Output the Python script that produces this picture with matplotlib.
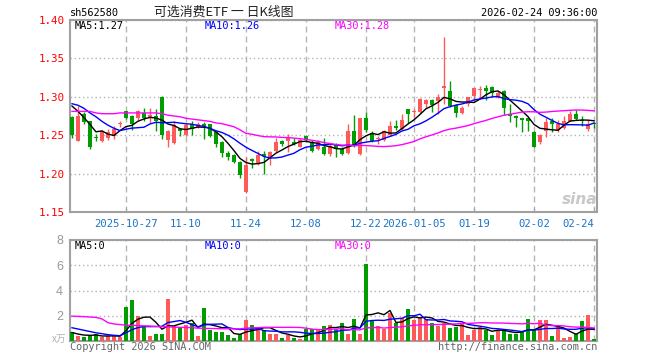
import numpy as np
import pandas as pd
import matplotlib
matplotlib.use("Agg")
import matplotlib.pyplot as plt

# trading days 2025-10-14 .. 2026-02-24 (exchange holidays removed)
holidays = ["2026-01-01", "2026-01-02", "2026-02-16", "2026-02-17",
            "2026-02-18", "2026-02-19", "2026-02-20", "2026-02-23"]
dates = pd.bdate_range("2025-10-14", "2026-02-24", freq="C", holidays=holidays)

open_ = [1.274, 1.243, 1.277, 1.268, 1.247, 1.242, 1.246, 1.249, 1.264, 1.281,
         1.275, 1.273, 1.279, 1.273, 1.275, 1.300, 1.244, 1.240, 1.258, 1.250,
         1.264, 1.261, 1.264, 1.264, 1.254, 1.241, 1.227, 1.224, 1.215, 1.176,
         1.219, 1.212, 1.225, 1.222, 1.229, 1.243, 1.242, 1.241, 1.235, 1.249,
         1.241, 1.232, 1.234, 1.225, 1.239, 1.232, 1.227, 1.255, 1.225, 1.273,
         1.253, 1.245, 1.244, 1.250, 1.262, 1.258, 1.284, 1.280, 1.280, 1.290,
         1.296, 1.295, 1.311, 1.308, 1.289, 1.279, 1.290, 1.301, 1.309, 1.311,
         1.313, 1.299, 1.308, 1.278, 1.275, 1.272, 1.272, 1.254, 1.241, 1.255,
         1.268, 1.257, 1.260, 1.269, 1.277, 1.269, 1.258, 1.266]
high = [1.275, 1.288, 1.280, 1.268, 1.251, 1.257, 1.258, 1.262, 1.268, 1.282,
        1.276, 1.283, 1.285, 1.285, 1.284, 1.301, 1.257, 1.269, 1.260, 1.266,
        1.268, 1.267, 1.267, 1.265, 1.255, 1.242, 1.229, 1.225, 1.216, 1.222,
        1.220, 1.229, 1.229, 1.229, 1.246, 1.244, 1.251, 1.246, 1.246, 1.250,
        1.244, 1.244, 1.246, 1.238, 1.240, 1.235, 1.264, 1.276, 1.273, 1.280,
        1.255, 1.249, 1.257, 1.268, 1.270, 1.277, 1.284, 1.284, 1.299, 1.297,
        1.297, 1.304, 1.378, 1.321, 1.290, 1.288, 1.300, 1.311, 1.314, 1.315,
        1.314, 1.308, 1.309, 1.290, 1.276, 1.273, 1.273, 1.256, 1.251, 1.272,
        1.273, 1.270, 1.275, 1.281, 1.283, 1.275, 1.270, 1.267]
low = [1.246, 1.242, 1.265, 1.232, 1.243, 1.241, 1.244, 1.245, 1.261, 1.271,
       1.257, 1.270, 1.268, 1.266, 1.256, 1.245, 1.235, 1.239, 1.249, 1.249,
       1.250, 1.259, 1.245, 1.248, 1.235, 1.221, 1.218, 1.214, 1.194, 1.175,
       1.207, 1.211, 1.200, 1.211, 1.228, 1.236, 1.228, 1.237, 1.234, 1.241,
       1.228, 1.231, 1.224, 1.223, 1.222, 1.224, 1.226, 1.235, 1.224, 1.254,
       1.241, 1.238, 1.243, 1.249, 1.257, 1.257, 1.266, 1.274, 1.279, 1.285,
       1.280, 1.277, 1.290, 1.287, 1.274, 1.277, 1.288, 1.296, 1.299, 1.296,
       1.300, 1.298, 1.276, 1.267, 1.261, 1.254, 1.256, 1.234, 1.238, 1.248,
       1.254, 1.254, 1.258, 1.268, 1.270, 1.262, 1.256, 1.260]
close = [1.250, 1.275, 1.267, 1.234, 1.246, 1.256, 1.254, 1.258, 1.266, 1.272,
         1.264, 1.281, 1.273, 1.276, 1.268, 1.250, 1.256, 1.263, 1.255, 1.263,
         1.258, 1.264, 1.262, 1.249, 1.238, 1.227, 1.221, 1.215, 1.198, 1.211,
         1.217, 1.224, 1.223, 1.228, 1.241, 1.238, 1.246, 1.239, 1.244, 1.244,
         1.229, 1.241, 1.225, 1.236, 1.232, 1.226, 1.255, 1.236, 1.272, 1.257,
         1.242, 1.247, 1.255, 1.262, 1.259, 1.270, 1.277, 1.282, 1.297, 1.296,
         1.289, 1.300, 1.314, 1.288, 1.279, 1.285, 1.300, 1.311, 1.310, 1.307,
         1.305, 1.305, 1.286, 1.275, 1.272, 1.270, 1.268, 1.235, 1.250, 1.267,
         1.265, 1.265, 1.268, 1.277, 1.271, 1.268, 1.264, 1.264]
# volume in 万
volume = [0.72, 0.37, 0.32, 0.45, 0.53, 0.32, 0.37, 0.37, 0.32, 2.69,
          3.25, 2.00, 1.17, 0.37, 0.59, 0.53, 3.33, 1.17, 1.12, 1.25,
          1.39, 0.37, 2.61, 0.85, 0.72, 0.72, 0.45, 0.21, 0.53, 1.65,
          1.25, 0.91, 0.91, 0.53, 0.59, 0.21, 0.45, 0.21, 0.16, 0.99,
          0.99, 0.93, 1.17, 1.25, 0.99, 1.39, 0.53, 1.71, 0.53, 6.13,
          1.60, 1.17, 0.99, 2.19, 1.39, 1.79, 2.53, 1.65, 1.79, 1.71,
          1.44, 1.17, 1.39, 1.04, 1.12, 1.39, 0.45, 0.91, 1.12, 0.91,
          0.45, 0.91, 0.85, 0.59, 0.53, 0.72, 1.73, 0.85, 1.65, 1.65,
          0.37, 1.25, 0.21, 0.32, 0.53, 1.60, 2.05, 0.13]

# moving-average values at the left edge (history before the window)
ma5_head = [1.288, 1.281, 1.273, 1.264]
ma10_head = [1.291, 1.289, 1.285, 1.279, 1.274, 1.268, 1.263, 1.259, 1.256]
ma30_head = [1.281, 1.281, 1.281, 1.281, 1.279, 1.278, 1.278, 1.278, 1.279, 1.279,
             1.279, 1.279, 1.279, 1.279, 1.279, 1.278, 1.276, 1.275, 1.274, 1.272,
             1.271, 1.270, 1.269, 1.268, 1.266, 1.265, 1.263, 1.261, 1.257]
vma5_head = [0.67, 0.55, 0.47, 0.45]
vma10_head = [1.05, 0.95, 0.85, 0.75, 0.65, 0.58, 0.50, 0.45, 0.42]
vma30_head = [1.97, 1.95, 1.93, 1.90, 1.87, 1.75, 1.45, 1.35, 1.30, 1.25,
              1.25, 1.22, 1.20, 1.18, 1.15, 1.13, 1.12, 1.10, 1.08, 1.07,
              1.05, 1.02, 1.00, 0.99, 0.98, 0.97, 0.97, 0.96, 0.96]

tick_dates = ["2025-10-27", "2025-11-10", "2025-11-24", "2025-12-08", "2025-12-22",
              "2026-01-05", "2026-01-19", "2026-02-02", "2026-02-24"]
tick_labels = ["2025-10-27", "11-10", "11-24", "12-08", "12-22",
               "2026-01-05", "01-19", "02-02", "02-24"]
price_ticks = [1.15, 1.20, 1.25, 1.30, 1.35, 1.40]
vol_ticks = [2, 4, 6, 8]

RED = "#ff5a5a"
GREEN = "#009c00"
GRID = "#b4b4b4"
FRAME = "#a0a0a0"
MONO = "DejaVu Sans Mono"

W, H = 660, 360
fig = plt.figure(figsize=(W / 100, H / 100), dpi=100)


def box(l, t, r, b):
    return [l / W, 1 - b / H, (r - l) / W, (b - t) / H]


def ftext(x, y, s, **kw):
    fig.text(x / W, 1 - y / H, s, **kw)


def with_head(series, n, head):
    out = series.rolling(n).mean().to_numpy()
    out[:len(head)] = head
    return out


x = np.arange(len(dates))
o = np.array(open_)
c = np.array(close)
up = c >= o
colors = np.where(up, RED, GREEN)
tick_pos = [dates.get_loc(pd.Timestamp(d)) for d in tick_dates]

ax = fig.add_axes(box(70, 20, 597, 212))
axv = fig.add_axes(box(70, 240, 597, 341))

# candles
ax.vlines(x, low, high, colors=colors, lw=1, zorder=3)
ax.bar(x, np.maximum(np.abs(c - o), 0.0012), bottom=np.minimum(o, c),
       width=0.8, color=colors, linewidth=0, zorder=3)
cs = pd.Series(close)
ax.plot(x, with_head(cs, 5, ma5_head), color="black", lw=1, zorder=4)
ax.plot(x, with_head(cs, 10, ma10_head), color="#0000ff", lw=1, zorder=4)
ax.plot(x, with_head(cs, 30, ma30_head), color="#ff00ff", lw=1, zorder=4)

# volume
axv.bar(x, volume, width=0.8, color=colors, linewidth=0, zorder=3)
vs = pd.Series(volume)
axv.plot(x, with_head(vs, 5, vma5_head), color="black", lw=1, zorder=4)
axv.plot(x, with_head(vs, 10, vma10_head), color="#0000ff", lw=1, zorder=4)
axv.plot(x, with_head(vs, 30, vma30_head), color="#ff00ff", lw=1, zorder=4)

for a in (ax, axv):
    a.set_xlim(-0.33, 87.5)
    a.set_xticks(tick_pos)
    a.grid(axis="x", color=GRID, ls=(0, (4.3, 2.9)), lw=1)
    a.grid(axis="y", color=GRID, ls=(0, (1, 2)), lw=1)
    a.set_axisbelow(True)
    for sp in a.spines.values():
        sp.set_color(FRAME)
        sp.set_linewidth(1.5)

ax.set_ylim(1.15, 1.40)
ax.set_yticks(price_ticks)
ax.set_yticklabels([f"{v:.2f}" for v in price_ticks], color="red",
                   family=MONO, fontsize=7.8)
ax.tick_params(axis="y", length=0, pad=4)
ax.set_xticklabels(tick_labels, color="#1a73c7", family=MONO, fontsize=7.6)
ax.tick_params(axis="x", direction="in", length=3, color=FRAME, pad=5)
ax.get_xticklabels()[-1].set_ha("right")

axv.set_ylim(0, 8)
axv.set_yticks(vol_ticks)
axv.set_yticklabels([str(v) for v in vol_ticks], color="#999999",
                    family="Liberation Sans", fontsize=9)
axv.tick_params(axis="y", length=0, pad=5)
axv.tick_params(axis="x", length=0, labelbottom=False)

# texts
ftext(70, 13, "sh562580", family=MONO, fontsize=7.4, va="center")
ftext(224, 12, "可选消费ETF 一 日K线图", family=["Noto Sans CJK SC", "DejaVu Sans"],
      fontsize=9.3, ha="center", va="center", color="#222222")
ftext(597, 13, "2026-02-24 09:36:00", family=MONO, fontsize=7.4, ha="right", va="center")
ftext(75, 26, "MA5:1.27", family=MONO, fontsize=7.4, va="center", color="black")
ftext(205, 26, "MA10:1.26", family=MONO, fontsize=7.4, va="center", color="#0000ff")
ftext(335, 26, "MA30:1.28", family=MONO, fontsize=7.4, va="center", color="#ff00ff")
ftext(75, 246, "MA5:0", family=MONO, fontsize=7.4, va="center", color="black")
ftext(205, 246, "MA10:0", family=MONO, fontsize=7.4, va="center", color="#0000ff")
ftext(335, 246, "MA30:0", family=MONO, fontsize=7.4, va="center", color="#ff00ff")
ftext(70, 347, "Copyright 2026 SINA.COM", family=MONO, fontsize=7.4, va="center", color="#666666")
ftext(597, 347, "http://finance.sina.com.cn", family=MONO, fontsize=7.4,
      ha="right", va="center", color="#666666")
ftext(66, 339, "x万", family=["Noto Sans CJK SC", "DejaVu Sans"], fontsize=7,
      ha="right", va="center", color="#b0b0b0")
ftext(580, 200, "sina", fontsize=11, style="italic", weight="bold",
      ha="center", va="center", color="#c8c8c8")

fig.savefig("out.png", dpi=100)
